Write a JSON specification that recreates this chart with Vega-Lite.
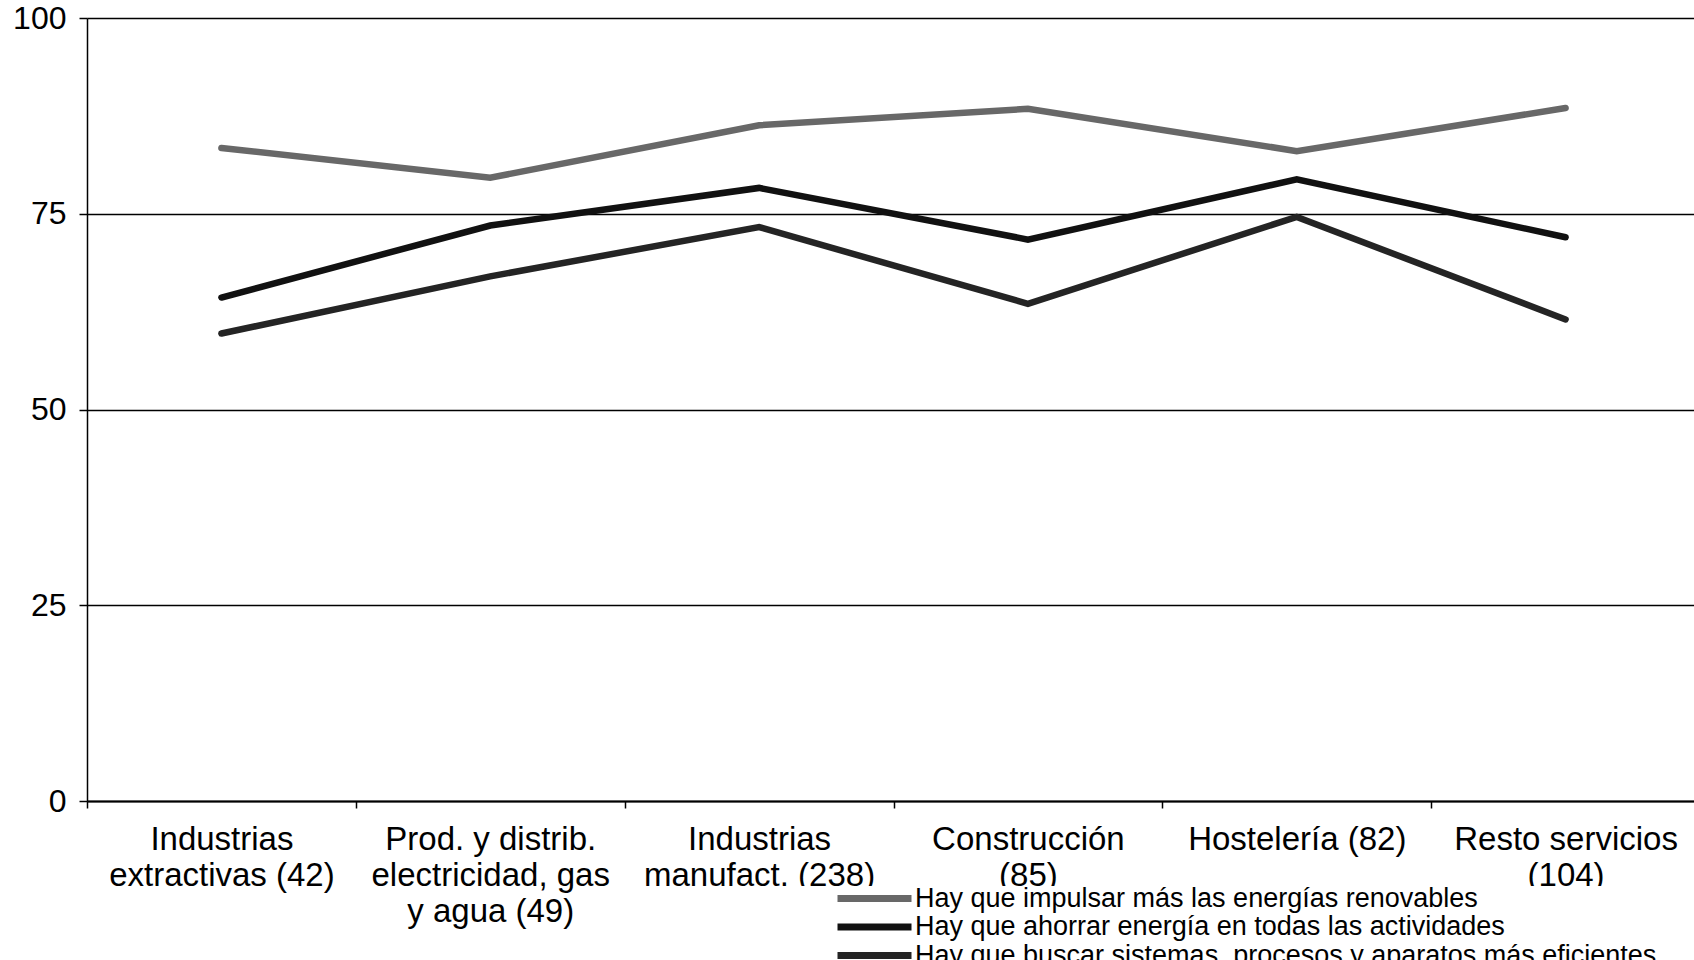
{
  "$schema": "https://vega.github.io/schema/vega-lite/v6.json",
  "width": 1607,
  "height": 783,
  "autosize": {"type": "none"},
  "padding": {"left": 87, "top": 18, "right": 0, "bottom": 159},
  "background": "white",
  "config": {"view": {"stroke": null}, "font": "Liberation Sans"},
  "data": {
    "values": [
      {"cat": "Industrias|extractivas (42)", "serie": "Hay que impulsar más las energías renovables", "value": 83.4},
      {"cat": "Prod. y distrib.|electricidad, gas|y agua (49)", "serie": "Hay que impulsar más las energías renovables", "value": 79.6},
      {"cat": "Industrias|manufact. (238)", "serie": "Hay que impulsar más las energías renovables", "value": 86.3},
      {"cat": "Construcción|(85)", "serie": "Hay que impulsar más las energías renovables", "value": 88.4},
      {"cat": "Hostelería (82)", "serie": "Hay que impulsar más las energías renovables", "value": 83.0},
      {"cat": "Resto servicios|(104)", "serie": "Hay que impulsar más las energías renovables", "value": 88.5},
      {"cat": "Industrias|extractivas (42)", "serie": "Hay que ahorrar energía en todas las actividades", "value": 64.3},
      {"cat": "Prod. y distrib.|electricidad, gas|y agua (49)", "serie": "Hay que ahorrar energía en todas las actividades", "value": 73.5},
      {"cat": "Industrias|manufact. (238)", "serie": "Hay que ahorrar energía en todas las actividades", "value": 78.3},
      {"cat": "Construcción|(85)", "serie": "Hay que ahorrar energía en todas las actividades", "value": 71.7},
      {"cat": "Hostelería (82)", "serie": "Hay que ahorrar energía en todas las actividades", "value": 79.4},
      {"cat": "Resto servicios|(104)", "serie": "Hay que ahorrar energía en todas las actividades", "value": 72.0},
      {"cat": "Industrias|extractivas (42)", "serie": "Hay que buscar sistemas, procesos y aparatos más eficientes", "value": 59.7},
      {"cat": "Prod. y distrib.|electricidad, gas|y agua (49)", "serie": "Hay que buscar sistemas, procesos y aparatos más eficientes", "value": 67.0},
      {"cat": "Industrias|manufact. (238)", "serie": "Hay que buscar sistemas, procesos y aparatos más eficientes", "value": 73.3},
      {"cat": "Construcción|(85)", "serie": "Hay que buscar sistemas, procesos y aparatos más eficientes", "value": 63.5},
      {"cat": "Hostelería (82)", "serie": "Hay que buscar sistemas, procesos y aparatos más eficientes", "value": 74.6},
      {"cat": "Resto servicios|(104)", "serie": "Hay que buscar sistemas, procesos y aparatos más eficientes", "value": 61.5}
    ]
  },
  "mark": {"type": "line", "strokeWidth": 6.5, "strokeCap": "round", "strokeJoin": "miter"},
  "encoding": {
    "x": {
      "field": "cat",
      "type": "nominal",
      "sort": null,
      "bandPosition": 0.5,
      "scale": {"type": "band", "paddingInner": 0, "paddingOuter": 0, "range": [0, 1613]},
      "axis": {
        "title": null,
        "labelAngle": 0,
        "labelExpr": "isValid(datum.value) ? split(datum.value, '|') : ''",
        "labelFontSize": 33,
        "labelLineHeight": 36,
        "labelColor": "black",
        "labelLimit": 0,
        "labelPadding": 15,
        "tickBand": "extent",
        "tickSize": 7,
        "tickColor": "black",
        "tickWidth": 1.5,
        "domainColor": "black",
        "domainWidth": 2
      }
    },
    "y": {
      "field": "value",
      "type": "quantitative",
      "scale": {"domain": [0, 100], "nice": false},
      "axis": {
        "title": null,
        "values": [0, 25, 50, 75, 100],
        "labelFontSize": 32,
        "labelColor": "black",
        "labelPadding": 13,
        "tickSize": 8,
        "tickColor": "black",
        "tickWidth": 1.5,
        "domainColor": "black",
        "domainWidth": 1.5,
        "grid": true,
        "gridColor": "black",
        "gridWidth": 1.3,
        "gridOpacity": 1
      }
    },
    "color": {
      "field": "serie",
      "type": "nominal",
      "sort": null,
      "scale": {
        "domain": [
          "Hay que impulsar más las energías renovables",
          "Hay que ahorrar energía en todas las actividades",
          "Hay que buscar sistemas, procesos y aparatos más eficientes"
        ],
        "range": ["#686868", "#111111", "#242424"]
      },
      "legend": {
        "title": null,
        "orient": "none",
        "legendX": 543,
        "legendY": 868,
        "direction": "vertical",
        "fillColor": "white",
        "padding": 0,
        "symbolType": "stroke",
        "symbolSize": 5476,
        "symbolStrokeWidth": 7,
        "clipHeight": 25,
        "rowPadding": 0.5,
        "symbolOffset": 204,
        "labelOffset": 0,
        "labelFontSize": 27,
        "labelColor": "black",
        "labelLimit": 0
      }
    }
  }
}
